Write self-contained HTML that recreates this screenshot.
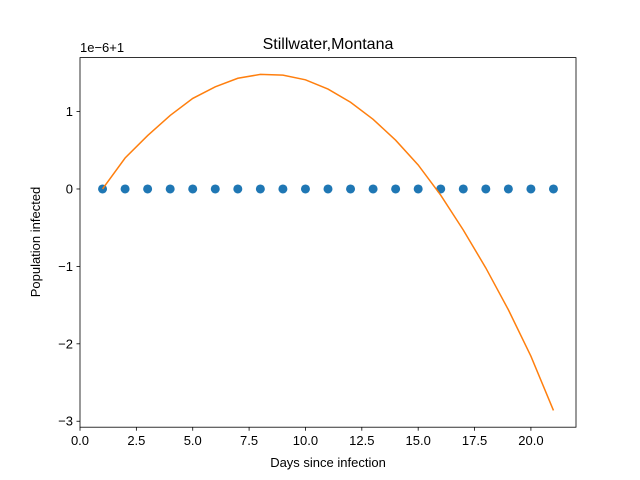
<!DOCTYPE html>
<html><head><meta charset="utf-8"><style>body{margin:0;background:#fff}svg{display:block;font-family:"Liberation Sans","DejaVu Sans",sans-serif}</style></head>
<body>
<svg id="chart" width="640" height="480">
<rect width="640" height="480" fill="#fff"/>
<text x="328" y="49" font-size="16" text-anchor="middle">Stillwater,Montana</text>
<text x="80" y="52" font-size="13">1e−6+1</text>
<text x="328" y="467" font-size="13" text-anchor="middle">Days since infection</text>
<text transform="translate(40,242) rotate(-90)" font-size="13" text-anchor="middle">Population infected</text>
<g id="ticks"></g>
<g id="marks"></g>
<rect x="80" y="57.6" width="496" height="369.6" fill="none" stroke="#000" stroke-width="0.8"/>
</svg>
<script>
const days = [1,2,3,4,5,6,7,8,9,10,11,12,13,14,15,16,17,18,19,20,21];
const observed = [0,0,0,0,0,0,0,0,0,0,0,0,0,0,0,0,0,0,0,0,0];
const fitted = [0,0.40,0.69,0.95,1.17,1.32,1.43,1.48,1.47,1.41,1.29,1.12,0.90,0.63,0.31,-0.08,-0.53,-1.02,-1.56,-2.16,-2.86];
const xTicks = [0,2.5,5,7.5,10,12.5,15,17.5,20];
const xTickLabels = ["0.0","2.5","5.0","7.5","10.0","12.5","15.0","17.5","20.0"];
const yTicks = [-3,-2,-1,0,1];
const yTickLabels = ["−3","−2","−1","0","1"];
const L=80,R=576,T=57.6,B=427.2,x0=0,x1=22,y0=-3.077,y1=1.697;
const sx=v=>L+(v-x0)/(x1-x0)*(R-L);
const sy=v=>B-(v-y0)/(y1-y0)*(B-T);
const NS="http://www.w3.org/2000/svg";
const tg=document.getElementById('ticks'),mg=document.getElementById('marks');
function mk(tag,attrs,parent){const e=document.createElementNS(NS,tag);for(const k in attrs)e.setAttribute(k,attrs[k]);parent.appendChild(e);return e;}
xTicks.forEach((t,i)=>{
 const l=mk('line',{x1:sx(t),x2:sx(t),y1:B,y2:B+3.5,stroke:'#000','stroke-width':0.8},tg);
 
 
 const tx=mk('text',{x:sx(t),y:B+18,'font-size':13,'text-anchor':'middle'},tg);
 tx.textContent=xTickLabels[i];
 
 
});
yTicks.forEach((t,i)=>{
 const l=mk('line',{x1:L-3.5,x2:L,y1:sy(t),y2:sy(t),stroke:'#000','stroke-width':0.8},tg);
 
 
 const tx=mk('text',{x:L-7,y:sy(t)+4.5,'font-size':13,'text-anchor':'end'},tg);
 tx.textContent=yTickLabels[i];
 
 
});
days.forEach((d,i)=>{
 const c=mk('circle',{cx:sx(d),cy:sy(observed[i]),r:4.5,fill:'#1f77b4'},mg);
 
 
});
const p=mk('polyline',{points:days.map((d,i)=>sx(d)+','+sy(fitted[i])).join(' '),fill:'none',stroke:'#ff7f0e','stroke-width':1.5},mg);


</script>
</body></html>
